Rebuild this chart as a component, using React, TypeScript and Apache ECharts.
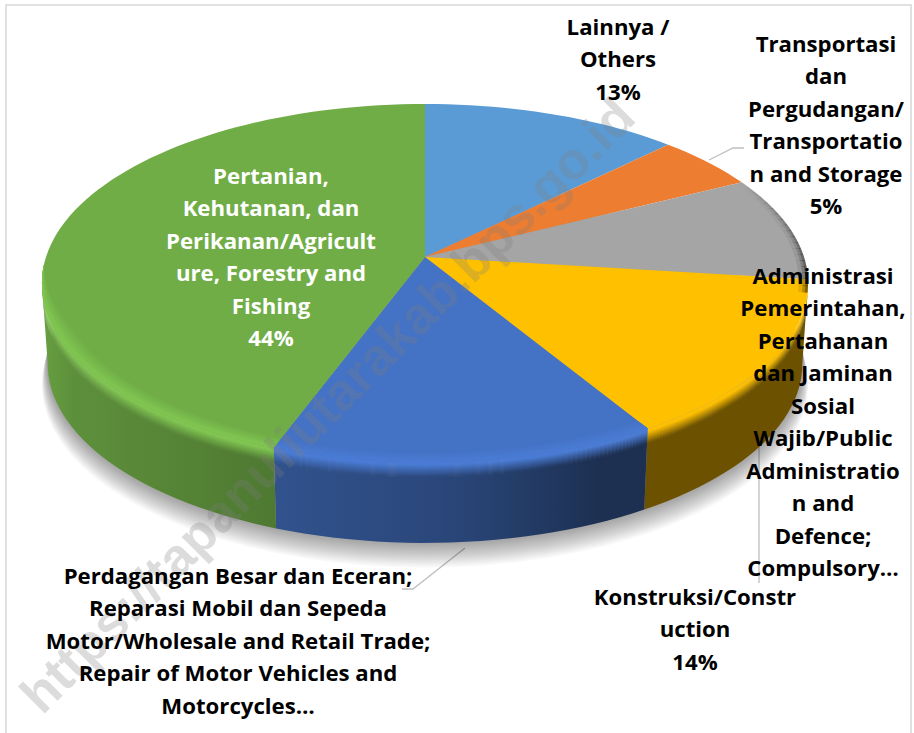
import React, { useEffect, useRef } from "react";
import * as echarts from "echarts";

const categories = [
  "Lainnya /\nOthers",
  "Transportasi\ndan\nPergudangan/\nTransportatio\nn and Storage",
  "Administrasi\nPemerintahan,\nPertahanan\ndan Jaminan\nSosial\nWajib/Public\nAdministratio\nn and\nDefence;\nCompulsory…",
  "Konstruksi/Constr\nuction",
  "Perdagangan Besar dan Eceran;\nReparasi Mobil dan Sepeda\nMotor/Wholesale and Retail Trade;\nRepair of Motor Vehicles and\nMotorcycles…",
  "Pertanian,\nKehutanan, dan\nPerikanan/Agricult\nure, Forestry and\nFishing",
];
const values = [12.5, 5.0, 9.5, 14.4, 14.2, 44.4];
const showPercent = [true, true, false, true, false, true];
const colors = ["#5b9bd5", "#ed7d31", "#a5a5a5", "#ffc000", "#4472c4", "#70ad47"];
const labelColors = ["#000", "#000", "#000", "#000", "#000", "#fff"];
const labelCenters = [
  [618, 10],
  [826, 27],
  [823, 259],
  [695, 580],
  [238, 559],
  [271, 159],
];
const watermark = "https://tapanuliutarakab.bps.go.id";

// Perspective model of the pie plane
const CX = 425, CY = 257, K = 0.145, A = 175.2, R = 379, DEPTH = 81, BEVEL = 15;
const total = values.reduce((a, b) => a + b, 0);
const rad = (deg: number) => (deg * Math.PI) / 180;

function pt(deg: number, r = 1, d = 0): [number, number] {
  const u = r * Math.sin(rad(deg));
  const v = -r * Math.cos(rad(deg));
  const den = 1 - K * v;
  const sx = 1 - (0.015 * d) / DEPTH;
  return [CX + ((R * u) / den) * sx, CY + (A * v) / den + d];
}
function arc(a0: number, a1: number, r: number | ((a: number) => number) = 1, d = 0, step = 2) {
  const n = Math.max(2, Math.ceil(Math.abs(a1 - a0) / step));
  const out: [number, number][] = [];
  for (let i = 0; i <= n; i++) {
    const a = a0 + ((a1 - a0) * i) / n;
    out.push(pt(a, typeof r === "function" ? r(a) : r, d));
  }
  return out;
}
const hex = (c: string) => [1, 3, 5].map((i) => parseInt(c.slice(i, i + 2), 16));
const rgb = (c: number[]) => `rgb(${c.map((v) => Math.max(0, Math.min(255, Math.round(v)))).join(",")})`;
const mul = (c: number[], f: number) => c.map((v) => v * f);
const mix = (a: number[], b: number[], t: number) => a.map((v, i) => v + (b[i] - v) * t);

const shadeStops = [[42, 0.95], [70, 0.86], [273, 0.72], [450, 0.62], [600, 0.42], [810, 0.42]];
function shade(x: number) {
  for (let i = 1; i < shadeStops.length; i++) {
    if (x <= shadeStops[i][0]) {
      const [x0, f0] = shadeStops[i - 1];
      const [x1, f1] = shadeStops[i];
      return f0 + ((f1 - f0) * (x - x0)) / (x1 - x0);
    }
  }
  return 0.42;
}
function xGradient(points: [number, number][], fn: (x: number) => number[]) {
  const xs = points.map((p) => p[0]);
  const lo = Math.min(...xs), hi = Math.max(...xs);
  const stops = [];
  for (let i = 0; i <= 8; i++) {
    stops.push({ offset: i / 8, color: rgb(fn(lo + ((hi - lo) * i) / 8)) });
  }
  return new echarts.graphic.LinearGradient(0, 0, 1, 0, stops);
}
const band = (a0: number, a1: number, d0: number, d1: number) => [
  ...arc(a0, a1, 1, d0),
  ...arc(a1, a0, 1, d1),
];

const FRONT_START = 90 + (Math.asin(K) * 180) / Math.PI;
const FRONT_END = 360 - FRONT_START;

function renderSlice(params: any, api: any) {
  const idx = params.dataIndex;
  const before = values.slice(0, idx).reduce((a, b) => a + b, 0);
  const a0 = (before / total) * 360;
  const a1 = ((before + api.value(0)) / total) * 360;
  const base = hex(colors[idx]);
  const children: any[] = [];
  const wa0 = Math.max(a0, FRONT_START), wa1 = Math.min(a1, FRONT_END);
  const gain = idx === 5 ? 0.97 : 1;
  const wallColor = (x: number) => mul(base, shade(x) * gain);
  const high = idx === 5 ? 1.14 : idx === 4 ? 1.08 : 1;

  if (idx === 0) {
    // soft ground shadow, stacked from wide to narrow
    for (let i = 16; i >= 1; i--) {
      children.push({
        type: "polygon",
        shape: { points: arc(0, 360, 1 + i * 0.0012, DEPTH + i * 1.5 - 4, 4) },
        style: { fill: "rgba(0,0,0,0.026)" },
      });
    }
  }
  if (wa1 > wa0) {
    const wallPts = band(wa0, wa1, BEVEL, DEPTH);
    children.push({
      type: "polygon",
      shape: { points: wallPts },
      style: { fill: xGradient(wallPts, wallColor) },
    });
    for (let d = 0; d < BEVEL; d++) {
      const t = (d + 0.5) / BEVEL;
      const pts = band(wa0, wa1, d, d + 1.6);
      children.push({
        type: "polygon",
        shape: { points: pts },
        style: {
          fill: xGradient(pts, (x) =>
            t < 0.2
              ? mul(base, idx === 3 ? 1 : high)
              : mix(mul(base, idx === 3 ? 1 : high), wallColor(x), (t - 0.2) / 0.8),
          ),
        },
      });
    }
  }
  children.push({
    type: "polygon",
    shape: { points: [[CX, CY], ...arc(a0, a1)] },
    style: { fill: colors[idx] },
  });
  // raised rim highlight on the front of the top face
  if (high > 1 && wa1 > wa0) {
    const taper = (a: number) => Math.min(1, Math.max(0, (FRONT_END + 6 - a) / 22));
    const aEnd = Math.min(a1, FRONT_END + 6);
    const LAYERS = 6;
    for (let j = 0; j < LAYERS; j++) {
      const inner = (a: number) => 1 - 0.04 * taper(a) * (1 - j / LAYERS);
      children.push({
        type: "polygon",
        shape: { points: [...arc(wa0, aEnd, 1, 0), ...arc(aEnd, wa0, inner, 0)] },
        style: { fill: rgb(mix(base, mul(base, high), (j + 1) / LAYERS)) },
      });
    }
  }
  // darkening of the back right rim
  for (let a = Math.max(a0, 62); a < Math.min(a1, 100); a += 2) {
    const alpha = (a - 62) / 38;
    [0.993, 0.986, 0.976].forEach((r, i) => {
      children.push({
        type: "polygon",
        shape: { points: [...arc(a, a + 2.2, 1, 0), ...arc(a + 2.2, a, r, 0)] },
        style: { fill: `rgba(0,0,0,${(alpha * 0.3 * (3 - i)) / 3})` },
      });
    });
  }
  return { type: "group", children };
}

function renderLabel(params: any, api: any) {
  const idx = params.dataIndex;
  const v = api.value(0);
  const txt = categories[idx] + (showPercent[idx] ? `\n${Math.round(v)}%` : "");
  return {
    type: "text",
    x: labelCenters[idx][0],
    y: labelCenters[idx][1],
    style: {
      text: txt,
      fill: labelColors[idx],
      font: '700 22.2px "Open Sans"',
      lineHeight: 32.5,
      align: "center",
      verticalAlign: "top",
    },
  };
}

function renderWatermark() {
  return {
    type: "text",
    x: 327,
    y: 405,
    rotation: rad(45),
    style: {
      text: watermark,
      fill: "rgba(125,125,125,0.27)",
      font: '700 52.5px "Liberation Sans"',
      align: "center",
      verticalAlign: "middle",
    },
  };
}

export default function App() {
  const ref = useRef<HTMLDivElement>(null);
  useEffect(() => {
    const chart = echarts.init(ref.current!, undefined, { renderer: "svg" });
    const lineStyle = { stroke: "#bfbfbf", lineWidth: 1.3, fill: "none" };
    chart.setOption({
      animation: false,
      backgroundColor: "#fff",
      graphic: [
        {
          type: "rect",
          shape: { x: 6, y: 5, width: 905, height: 760 },
          style: { fill: "#fff", stroke: "#d9d9d9", lineWidth: 1.6 },
        },
        { type: "polyline", shape: { points: [[709, 160], [733, 148], [744, 148]] }, style: lineStyle },
        { type: "polyline", shape: { points: [[465, 548], [413, 589], [402, 589]] }, style: lineStyle },
        { type: "line", shape: { x1: 759, y1: 430, x2: 759, y2: 583 }, style: lineStyle },
      ],
      series: [
        {
          type: "custom",
          coordinateSystem: "none",
          z: 3,
          silent: true,
          renderItem: renderSlice,
          data: values.map((v) => [v]),
        },
        {
          type: "custom",
          coordinateSystem: "none",
          z: 6,
          silent: true,
          renderItem: renderWatermark,
          data: [[0]],
        },
        {
          type: "custom",
          coordinateSystem: "none",
          z: 10,
          silent: true,
          renderItem: renderLabel,
          data: values.map((v) => [v]),
        },
      ],
    });
    return () => chart.dispose();
  }, []);
  return <div ref={ref} style={{ position: "fixed", left: 0, top: 0, width: 914, height: 733 }} />;
}
